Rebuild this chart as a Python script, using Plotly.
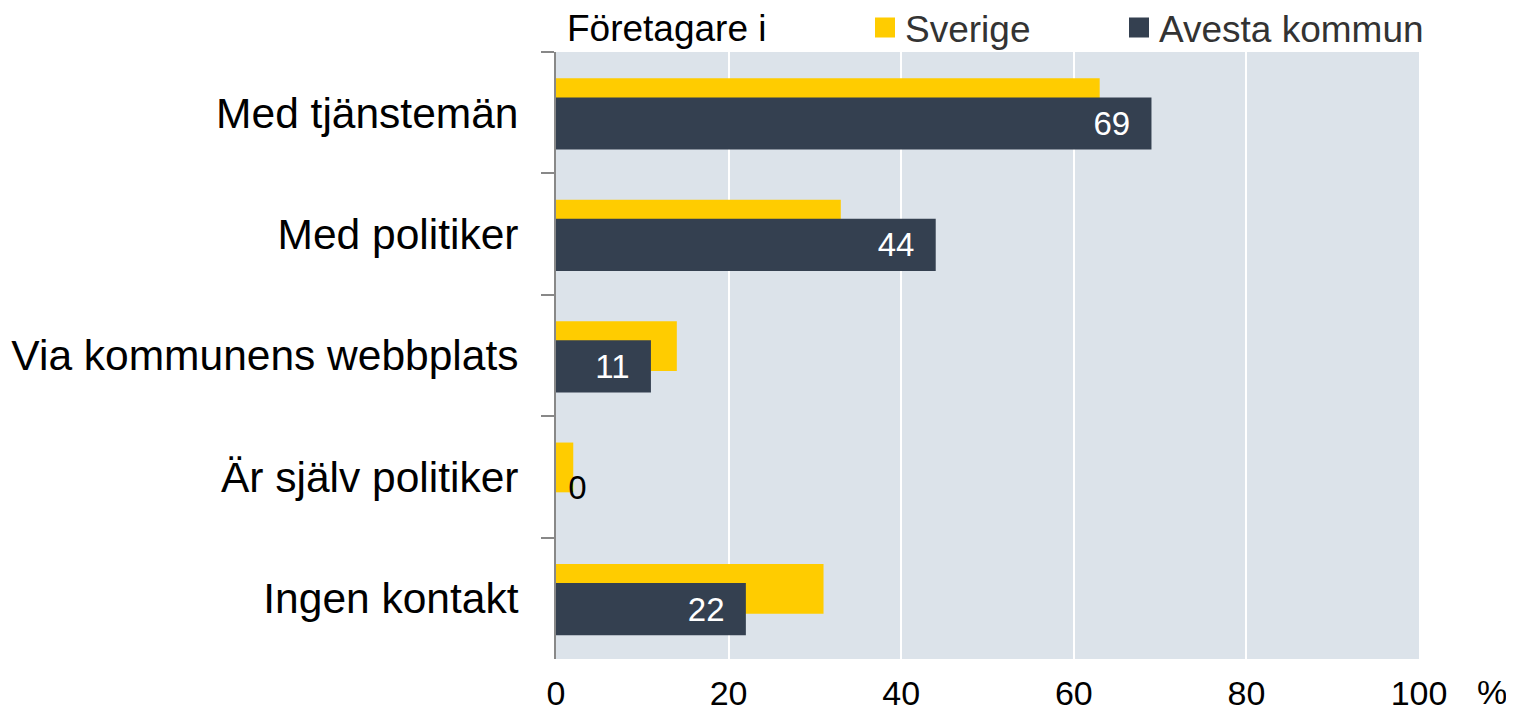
import plotly.graph_objects as go

categories = ["Med tjänstemän", "Med politiker", "Via kommunens webbplats", "Är själv politiker", "Ingen kontakt"]
sverige = [63, 33, 14, 2, 31]
avesta = [69, 44, 11, 0, 22]
x_ticks = [0, 20, 40, 60, 80, 100]
legend_title = "Företagare i"
series_names = ["Sverige", "Avesta kommun"]

YELLOW = "#FFCC00"
DARK = "#344050"
BG = "#DCE3EA"

# figure is drawn with an 8px page offset; coordinates below are figure px
W, H = 1506, 704
L, T = 548, 44
PR, PB = 1411, 651
R, B = W - PR, H - PB
pw, ph = PR - L, PB - T

def px(x):
    return (x - L) / pw

def py(y):
    return (PB - y) / ph

fig = go.Figure()

fig.add_trace(go.Bar(
    y=categories, x=sverige, orientation="h", name=series_names[0],
    marker=dict(color=YELLOW, line=dict(width=0)),
    width=0.41, offset=-0.283, showlegend=False, hoverinfo="x+name",
))

pos = ["outside" if v == 0 else "inside" for v in avesta]
cols = ["black" if v == 0 else "white" for v in avesta]
fig.add_trace(go.Bar(
    y=categories, x=avesta, orientation="h", name=series_names[1],
    marker=dict(color=DARK, line=dict(width=0)),
    width=0.43, offset=-0.126, showlegend=False,
    texttemplate=["\u00a0%{x}" if v == 0 else "%{x}\u00a0\u00a0" for v in avesta],
    textposition=pos, insidetextanchor="end",
    textfont=dict(family="Liberation Sans, Arial, sans-serif", size=33, color=cols),
    cliponaxis=False, constraintext="none", hoverinfo="x+name",
))

# legend entries (one legend each, to place them independently)
for nm, c, lg in zip(series_names, [YELLOW, DARK], ["legend", "legend2"]):
    fig.add_trace(go.Scatter(
        x=[None], y=[None], mode="markers", name=nm, legend=lg,
        marker=dict(symbol="square", size=16, color=c, line=dict(color=c, width=4)),
        showlegend=True,
    ))

leg_common = dict(
    orientation="h", yanchor="middle", xanchor="left", y=py(20),
    font=dict(size=37, color="#333333"), bgcolor="rgba(0,0,0,0)",
    itemwidth=30, borderwidth=0,
)

fig.update_layout(
    width=W, height=H,
    margin=dict(l=L, r=R, t=T, b=B, autoexpand=False),
    paper_bgcolor="white", plot_bgcolor=BG,
    barmode="overlay",
    font=dict(family="Liberation Sans, Arial, sans-serif", color="black"),
    showlegend=True,
    legend=dict(x=px(857), **leg_common),
    legend2=dict(x=px(1111), **leg_common),
    xaxis=dict(
        range=[0, 100], tickvals=x_ticks, ticktext=[str(t) for t in x_ticks],
        showgrid=True, gridcolor="white", gridwidth=2,
        zeroline=False, showline=False, ticks="",
        tickfont=dict(size=34, color="black"), fixedrange=True,
        ticklabelstandoff=11,
    ),
    yaxis=dict(
        type="category", categoryorder="array", categoryarray=categories,
        range=[len(categories) - 0.5, -0.5],
        showline=True, linecolor="#888888", linewidth=2,
        ticks="outside", tickson="boundaries", ticklen=13, tickcolor="#888888", tickwidth=2,
        showgrid=False, tickfont=dict(size=42.5, color="black"),
        ticklabelstandoff=27, fixedrange=True,
    ),
    annotations=[
        dict(text=legend_title, xref="paper", yref="paper",
             x=px(557), y=py(20), xanchor="left", yanchor="middle",
             showarrow=False, font=dict(size=37, color="black")),
        dict(text="%", xref="paper", yref="paper",
             x=px(1484), y=py(684), xanchor="center", yanchor="middle",
             showarrow=False, font=dict(size=34, color="black"), borderpad=0),
    ],
)

fig.write_html("out.html")
